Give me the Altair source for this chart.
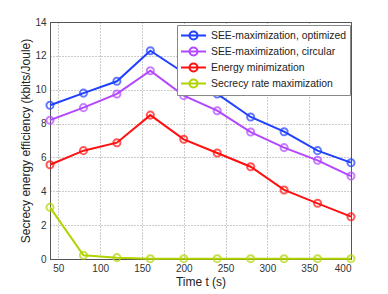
import altair as alt
import pandas as pd

times = [40, 80, 120, 160, 200, 240, 280, 320, 360, 400]
series_names = [
    "SEE-maximization, optimized",
    "SEE-maximization, circular",
    "Energy minimization",
    "Secrecy rate maximization",
]
see_optimized = [9.08, 9.8, 10.5, 12.3, 11.0, 9.75, 8.39, 7.52, 6.40, 5.69]
see_circular = [8.2, 8.94, 9.75, 11.12, 9.65, 8.76, 7.5, 6.58, 5.83, 4.9]
energy_min = [5.57, 6.4, 6.87, 8.5, 7.07, 6.26, 5.45, 4.08, 3.29, 2.5]
secrecy_rate = [3.05, 0.22, 0.08, 0.02, 0.02, 0.02, 0.02, 0.02, 0.02, 0.02]
colors = ["#2040ff", "#b347ff", "#ff1010", "#b0d400"]
x_ticks = [50, 100, 150, 200, 250, 300, 350, 400]
y_ticks = [0, 2, 4, 6, 8, 10, 12, 14]

rows = []
for name, vals in zip(series_names, [see_optimized, see_circular, energy_min, secrecy_rate]):
    for t, v in zip(times, vals):
        rows.append({"t": t, "v": v, "series": name})
df = pd.DataFrame(rows)

font = "Liberation Sans"
legend_symbol = "M-2,0L2,0M-0.64,0A0.64,0.64 0 1,1 0.64,0A0.64,0.64 0 1,1 -0.64,0"

x = alt.X("t:Q", scale=alt.Scale(domain=[40, 400], nice=False),
          axis=alt.Axis(values=x_ticks, title="Time t (s)", grid=True, labelOverlap=False))
y = alt.Y("v:Q", scale=alt.Scale(domain=[0, 14], nice=False),
          axis=alt.Axis(values=y_ticks, title="Secrecy energy efficiency (kbits/Joule)",
                        grid=True, labelOverlap=False, tickCount=8))
cscale = alt.Scale(domain=series_names, range=colors)
color = alt.Color("series:N", sort=series_names, scale=cscale,
                  legend=alt.Legend(title=None, orient="none", legendX=127, legendY=3,
                                    symbolType=legend_symbol, symbolSize=156,
                                    symbolStrokeWidth=2, symbolFillColor="transparent",
                                    symbolOffset=6,
                                    fillColor="white", strokeColor="#888888",
                                    padding=3, rowPadding=-3.8, labelFontSize=10.4,
                                    labelFont=font, labelColor="#222222", labelOffset=10,
                                    labelLimit=300))

base = alt.Chart(df)
lines = base.mark_line(strokeWidth=2).encode(x=x, y=y, color=color, detail="series:N")
points = base.mark_point(shape="circle", filled=False, size=50, strokeWidth=2).encode(
    x=x, y=y, color=alt.Color("series:N", sort=series_names, legend=None, scale=cscale))

chart = alt.layer(lines, points).properties(
    width=301, height=237,
    autosize=alt.AutoSizeParams(type="none"),
    padding={"left": 42, "top": 14, "right": 20, "bottom": 32},
).configure_axis(
    gridDash=[1, 2], gridColor="#555555", gridOpacity=0.6, gridWidth=1,
    domainColor="#555555", ticks=False, labelFont=font, labelFontSize=10,
    labelColor="#333333", titleFont=font, titleFontSize=12, titleColor="#222222",
    titleFontWeight="normal", labelPadding=4,
).configure_axisX(titlePadding=3, labelPadding=4).configure_axisY(titlePadding=2).configure_view(
    stroke="#555555", strokeWidth=1
)

chart.save("out.html", embed_options={"renderer": "svg", "actions": False})
